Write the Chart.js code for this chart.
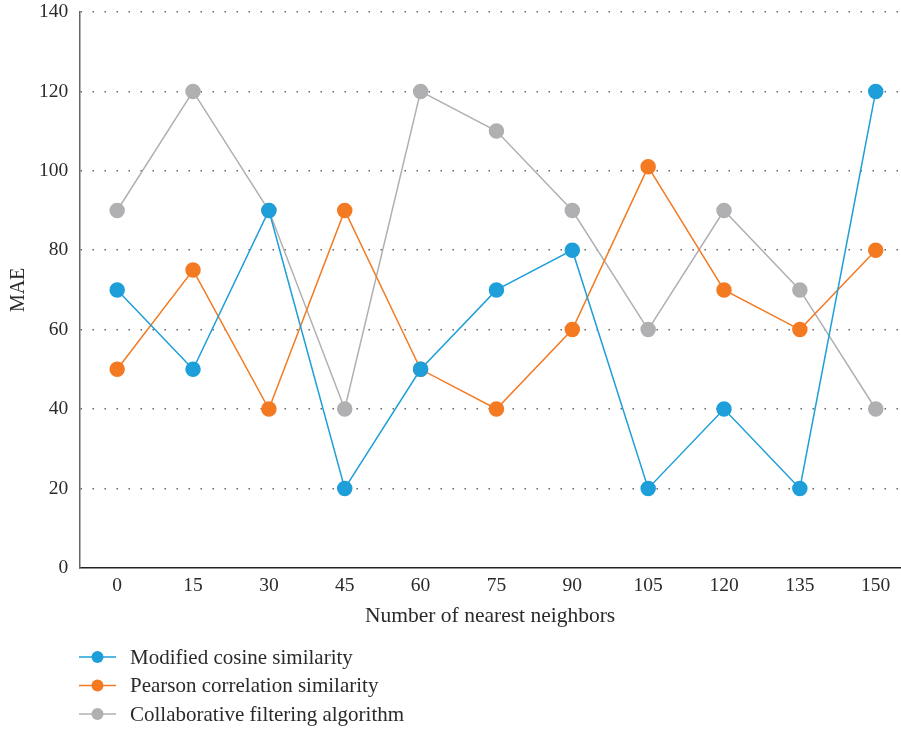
<!DOCTYPE html>
<html>
<head>
<meta charset="utf-8">
<script src="https://cdn.jsdelivr.net/npm/chart.js@4"></script>
<style>
  html, body { margin: 0; padding: 0; background: #fff; overflow: hidden; }
  #wrap { width: 901px; height: 729px; position: relative; }
  canvas { display: block; }
</style>
</head>
<body>
<div id="wrap"><canvas id="maeChart"></canvas></div>
<script>
// data
const neighbors = [0, 15, 30, 45, 60, 75, 90, 105, 120, 135, 150];
const cosineMAE = [70, 50, 90, 20, 50, 70, 80, 20, 40, 20, 120];
const pearsonMAE = [50, 75, 40, 90, 50, 40, 60, 101, 70, 60, 80];
const cfMAE = [90, 120, 90, 40, 120, 110, 90, 60, 90, 70, 40];
const yTicks = [0, 20, 40, 60, 80, 100, 120, 140];

const FONT = "'Liberation Serif', 'DejaVu Serif', serif";

function toPoints(values) {
    return neighbors.map((n, i) => ({ x: n, y: values[i] }));
}

function makeSeries(label, values, color) {
    return {
        label: label,
        data: toPoints(values),
        borderColor: color,
        backgroundColor: color,
        pointBackgroundColor: color,
        pointBorderColor: color,
        borderWidth: 1.5,
        pointRadius: 7,
        pointHoverRadius: 7,
        tension: 0,
        fill: false,
        clip: false
    };
}

// legend drawn under the plot: line with a dot, one row per series
const bottomLegend = {
    id: 'bottomLegend',
    afterDraw(chart) {
        const ctx = chart.ctx;
        ctx.save();
        chart.data.datasets.forEach((ds, i) => {
            const y = 657 + i * 28.5;
            ctx.strokeStyle = ds.borderColor;
            ctx.lineWidth = 1.5;
            ctx.beginPath();
            ctx.moveTo(79, y);
            ctx.lineTo(116, y);
            ctx.stroke();
            ctx.fillStyle = ds.borderColor;
            ctx.beginPath();
            ctx.arc(97.5, y, 6, 0, Math.PI * 2);
            ctx.fill();
            ctx.fillStyle = '#2a2a2a';
            ctx.font = '21px ' + FONT;
            ctx.textBaseline = 'middle';
            ctx.textAlign = 'left';
            ctx.fillText(ds.label, 130, y + 1);
        });
        ctx.restore();
    }
};

new Chart(document.getElementById('maeChart'), {
    type: 'line',
    data: {
        datasets: [
            makeSeries('Modified cosine similarity', cosineMAE, '#1e9fd9'),
            makeSeries('Pearson correlation similarity', pearsonMAE, '#f47a22'),
            makeSeries('Collaborative filtering algorithm', cfMAE, '#b0b0b2')
        ]
    },
    options: {
        responsive: true,
        maintainAspectRatio: false,
        animation: false,
        layout: { autoPadding: false, padding: { top: 12, right: 0, left: 0, bottom: 96 } },
        plugins: {
            legend: { display: false },
            tooltip: { enabled: false }
        },
        scales: {
            x: {
                type: 'linear',
                min: -7.5,
                max: 155,
                afterBuildTicks: (axis) => { axis.ticks = neighbors.map(v => ({ value: v })); },
                afterFit: (axis) => { axis.paddingLeft = 0; axis.paddingRight = 0; },
                grid: { display: false, drawTicks: false },
                border: { display: true, color: '#222', width: 1.5 },
                ticks: {
                    color: '#2a2a2a',
                    font: { family: FONT, size: 19.5 },
                    padding: 6,
                    maxRotation: 0,
                    autoSkip: false
                },
                title: {
                    display: true,
                    text: 'Number of nearest neighbors',
                    color: '#2a2a2a',
                    font: { family: FONT, size: 21.5 },
                    padding: { top: 0, bottom: 4 }
                }
            },
            y: {
                min: 0,
                max: 140,
                afterBuildTicks: (axis) => { axis.ticks = yTicks.map(v => ({ value: v })); },
                afterFit: (axis) => { axis.paddingTop = 0; axis.paddingBottom = 0; },
                grid: {
                    color: (c) => c.tick && c.tick.value === 0 ? 'rgba(0,0,0,0)' : '#666',
                    lineWidth: 1.5,
                    drawTicks: false
                },
                border: { display: true, color: '#666', width: 1.5, dash: [1.5, 10.5] },
                ticks: {
                    color: '#2a2a2a',
                    font: { family: FONT, size: 19.5 },
                    padding: 11
                },
                title: {
                    display: true,
                    text: 'MAE',
                    color: '#2a2a2a',
                    font: { family: FONT, size: 20 },
                    padding: { top: 7, bottom: -3 }
                }
            }
        }
    },
    plugins: [bottomLegend]
});
</script>
</body>
</html>
